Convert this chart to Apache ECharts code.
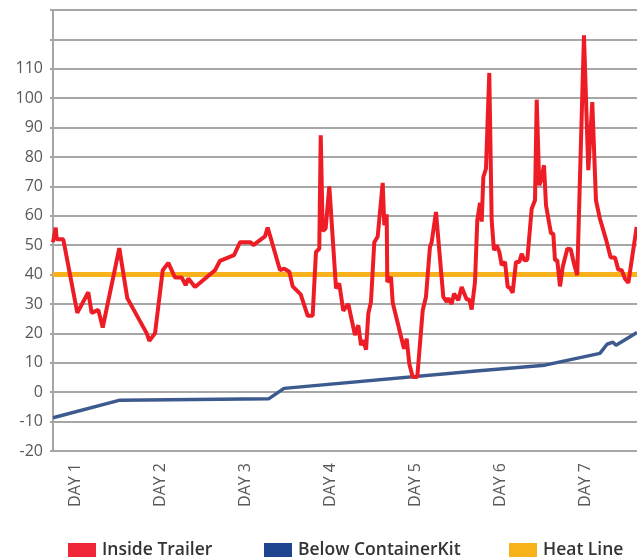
<!DOCTYPE html>
<html>
<head>
<meta charset="utf-8">
<script src="https://cdn.jsdelivr.net/npm/echarts@6/dist/echarts.min.js"></script>
<style>
  html, body { margin: 0; padding: 0; background: #fff; }
  #chart { width: 637px; height: 559px; }
</style>
</head>
<body>
<div id="chart"></div>
<script>
// x values are in days (DAY 1 = 1)
const dayTicks = [1, 2, 3, 4, 5, 6, 7];
const xMin = 0.741;
const xMax = 7.612;

const insideTrailer = [
  [0.741, 51], [0.773, 56], [0.785, 52], [0.862, 52], [1.027, 27], [1.156, 34],
  [1.196, 27], [1.235, 27.5], [1.274, 28], [1.326, 22], [1.521, 49], [1.615, 32],
  [1.844, 20], [1.874, 17.5], [1.941, 20], [2.032, 41.5], [2.098, 44], [2.176, 39],
  [2.255, 39], [2.302, 36.4], [2.333, 38.7], [2.412, 35.8], [2.647, 41.5], [2.706, 44.7],
  [2.871, 46.6], [2.941, 51], [3.067, 51], [3.098, 50], [3.235, 53], [3.267, 56],
  [3.412, 41.5], [3.462, 42], [3.521, 41], [3.561, 36], [3.655, 33.3], [3.738, 26],
  [3.796, 26], [3.835, 47.7], [3.874, 48.8], [3.891, 87.4], [3.914, 54.8], [3.949, 55.7],
  [3.992, 70], [4.071, 35.3], [4.109, 37], [4.156, 27.7], [4.215, 30], [4.294, 19.4],
  [4.333, 22.8], [4.365, 16], [4.392, 17.7], [4.424, 14.5], [4.451, 26.8], [4.482, 30.7],
  [4.521, 51], [4.561, 52.9], [4.620, 71.2], [4.639, 56.8], [4.667, 60.5], [4.674, 37.5],
  [4.718, 39.2], [4.738, 30.4], [4.871, 14.8], [4.902, 18.2], [4.933, 9.7], [4.973, 5.2],
  [5.027, 5.2], [5.091, 27.9], [5.129, 32.4], [5.176, 49.4], [5.196, 51], [5.247, 61.3],
  [5.333, 32.4], [5.373, 30.7], [5.392, 32], [5.431, 30], [5.459, 33.5], [5.509, 31.3],
  [5.549, 35.8], [5.608, 31.5], [5.639, 31.5], [5.667, 28.1], [5.706, 37.5], [5.733, 58.5],
  [5.765, 64.4], [5.785, 58], [5.804, 73.2], [5.835, 76], [5.874, 108.6], [5.902, 58.5],
  [5.929, 48.3], [5.961, 50], [5.992, 47.7], [6.020, 43.2], [6.059, 44.3], [6.091, 35.8],
  [6.118, 35.5], [6.149, 33.8], [6.188, 44.3], [6.227, 44.3], [6.255, 47.1], [6.286, 44.9],
  [6.321, 45], [6.373, 62.4], [6.412, 65.3], [6.432, 99.5], [6.462, 70.4], [6.482, 72],
  [6.518, 77.2], [6.541, 63.6], [6.556, 63], [6.600, 54], [6.627, 54], [6.647, 44.9],
  [6.674, 44.9], [6.706, 36], [6.738, 42.6], [6.756, 42], [6.792, 48.8], [6.832, 48.6],
  [6.871, 43.7], [6.909, 39.8], [6.921, 39.5], [6.988, 121.4], [7.039, 75.5], [7.086, 98.7],
  [7.129, 65.3], [7.176, 59], [7.247, 52], [7.302, 45.8], [7.353, 45.8], [7.392, 41.7],
  [7.432, 41.5], [7.471, 38.6], [7.510, 37.2], [7.608, 56.2]
];

const belowContainerKit = [
  [0.741, -8.7], [1.529, -2.7], [3.282, -2.2], [3.459, 1.3], [5.753, 7.3],
  [6.529, 9.2], [7.176, 13.2], [7.259, 16.3], [7.329, 17], [7.365, 16], [7.612, 20.3]
];

const heatLine = [[0.741, 40], [7.612, 40]];

const yMin = -20, yMax = 130, yStep = 10, yLabelMax = 110;

const font = '"Open Sans", "Noto Sans", sans-serif';
const gridGray = '#a6a6a6';

const chart = echarts.init(document.getElementById('chart'));

function legendAt(left, name) {
  return {
    left: left,
    top: 541,
    padding: 0,
    itemWidth: 28,
    itemHeight: 14,
    itemGap: 8,
    icon: 'rect',
    selectedMode: false,
    data: [name],
    textStyle: { fontFamily: font, fontSize: 17.5, fontWeight: 600, color: '#333', padding: [6, 0, 0, 1] }
  };
}

chart.setOption({
  animation: false,
  grid: { left: 53, right: 0, top: 10, bottom: 108, containLabel: false },
  legend: [
    legendAt(68, 'Inside Trailer'),
    legendAt(264, 'Below ContainerKit'),
    legendAt(509, 'Heat Line')
  ],
  xAxis: {
    type: 'value',
    min: xMin,
    max: xMax,
    axisLine: { show: true, onZero: false, lineStyle: { color: gridGray, width: 2 } },
    axisTick: { show: false },
    splitLine: { show: false },
    axisLabel: {
      customValues: dayTicks,
      rotate: 90,
      margin: 12,
      color: '#595959',
      fontFamily: font,
      fontSize: 16,
      formatter: (v) => 'DAY ' + v
    }
  },
  yAxis: {
    type: 'value',
    min: yMin,
    max: yMax,
    interval: yStep,
    axisLine: { show: true, lineStyle: { color: gridGray, width: 2 } },
    axisTick: { show: true, length: 3, lineStyle: { color: gridGray, width: 2 } },
    splitLine: { show: true, lineStyle: { color: gridGray, width: 2 } },
    axisLabel: {
      margin: 10,
      color: '#595959',
      fontFamily: font,
      fontSize: 16,
      formatter: (v) => (v > yLabelMax ? '' : String(v))
    }
  },
  series: [
    {
      name: 'Heat Line',
      type: 'line',
      data: heatLine,
      symbol: 'none',
      z: 2,
      itemStyle: { color: '#f7b119' },
      lineStyle: { color: '#f8b21c', width: 5 }
    },
    {
      name: 'Below ContainerKit',
      type: 'line',
      data: belowContainerKit,
      symbol: 'none',
      z: 3,
      itemStyle: { color: '#1f4591' },
      lineStyle: { color: '#3d5a8f', width: 3.5 }
    },
    {
      name: 'Inside Trailer',
      type: 'line',
      data: insideTrailer,
      symbol: 'none',
      z: 4,
      itemStyle: { color: '#ee2638' },
      lineStyle: { color: '#ee1c25', width: 4 }
    }
  ]
});
</script>
</body>
</html>
